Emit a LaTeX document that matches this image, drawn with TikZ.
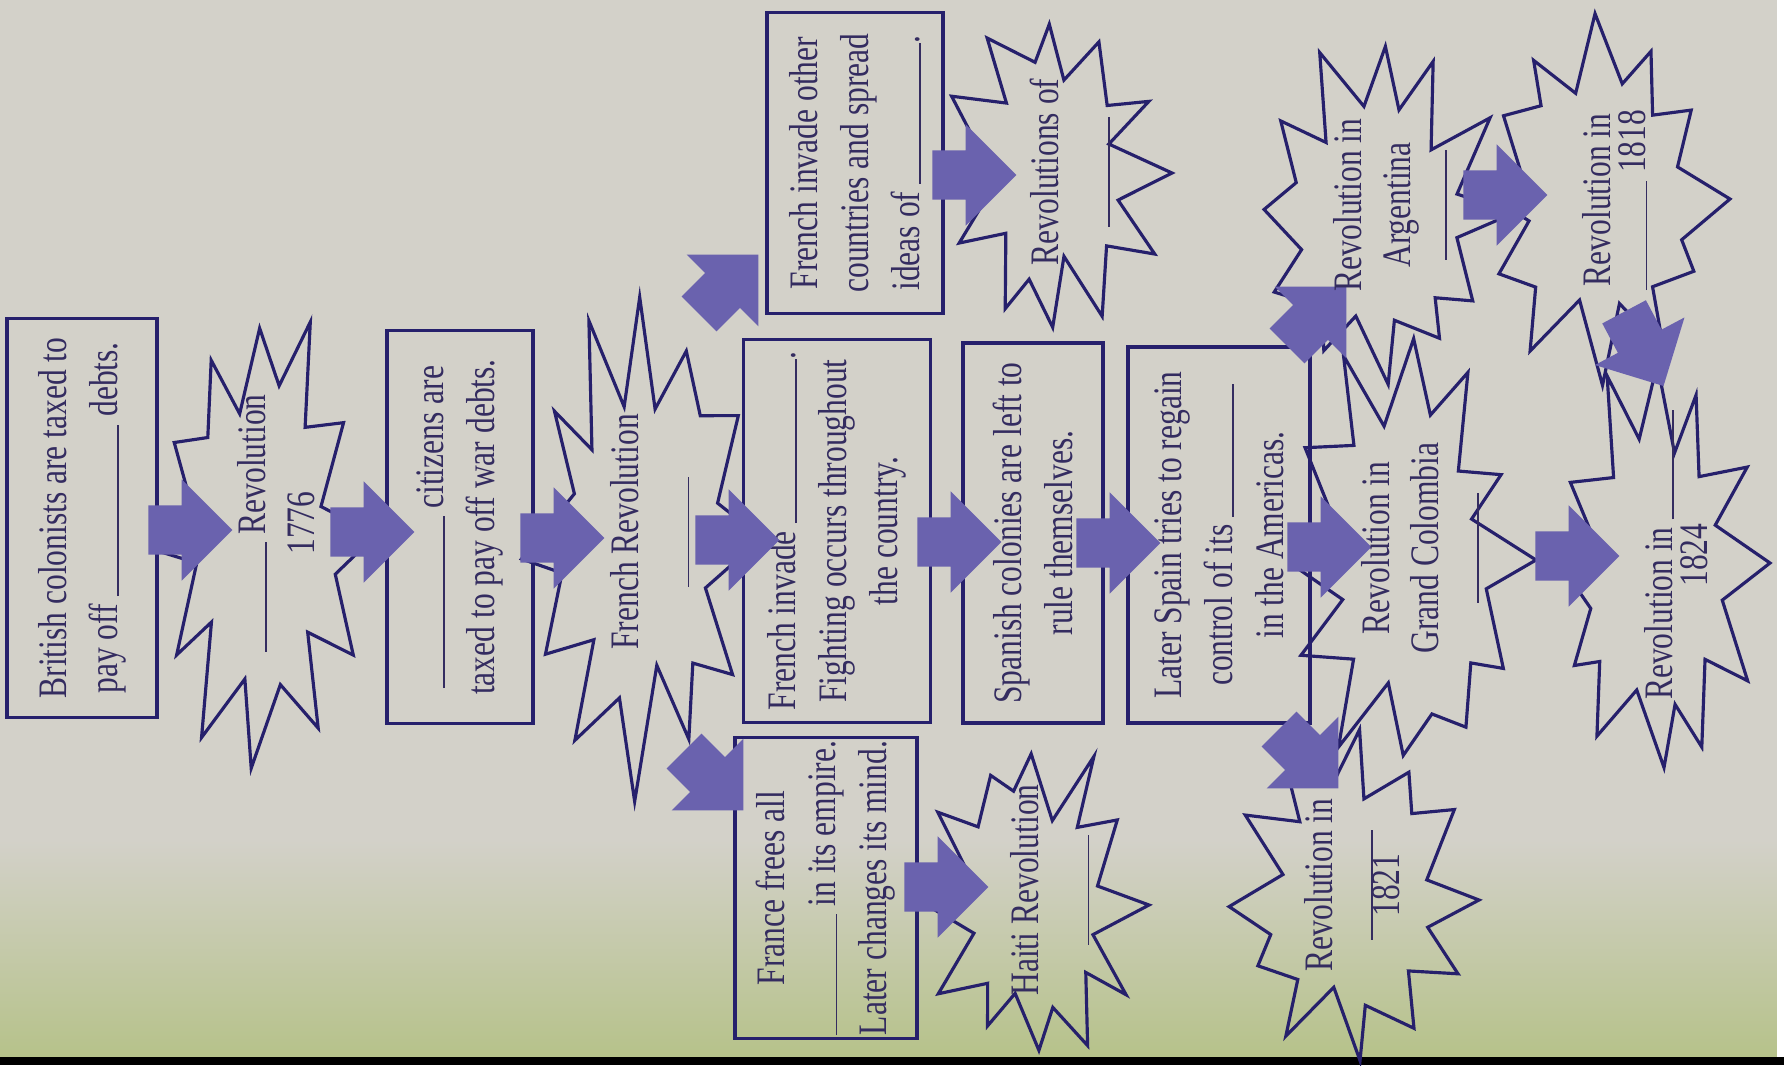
\documentclass[tikz,border=0pt]{standalone}
\usepackage{fontspec}
\setmainfont{Liberation Serif}
\usetikzlibrary{shapes.arrows,calc}

\definecolor{paper}{RGB}{211,209,201}
\definecolor{grass}{RGB}{182,194,138}
\definecolor{ink}{RGB}{38,32,108}
\definecolor{txtc}{RGB}{52,44,96}
\definecolor{arrowc}{RGB}{106,98,174}

\newcommand{\blank}[1]{\rule[-0.4pt]{#1}{0.5pt}}
% star outline: centre, x radius, y radius, seed
\newcommand{\burst}[4]{%
	\pgfmathsetseed{#4}
	\draw[burstline] ($(#1)+(0:#2 and #3)$)
		\foreach \idx [evaluate=\idx as \rad using {mod(\idx,2)==0 ? 0.8+0.2*rnd : 0.5+0.18*rnd},
			evaluate=\idx as \ang using {\idx*15+10*(rnd-0.5)}] in {1,...,23}
			{ -- ($(#1)+({\ang}:{\rad*#2} and {\rad*#3})$) } -- cycle;}

\begin{document}
\begin{tikzpicture}[x=1mm,y=-1mm]
	\tikzset{
		burstline/.style={draw=ink,line width=0.9pt,line join=miter},
		box/.style={draw=ink,line width=0.9pt,rotate=90,xscale=0.78,align=center,
			inner sep=1pt,text=txtc,font=\fontsize{11.5}{14.5}\selectfont},
		txt/.style={rotate=90,xscale=0.78,align=center,inner sep=0pt,text=txtc,
			font=\fontsize{11.5}{14}\selectfont},
		blk/.style={single arrow,fill=arrowc,draw=none,minimum height=8.4mm,
			single arrow head extend=2.6mm,inner xsep=0pt,inner ysep=2.4mm},
	}
	\useasboundingbox (0,0) rectangle (178.4,106.5);

	% page
	\fill[paper] (0,0) rectangle (178.4,106.5);
	\shade[top color=paper,bottom color=grass] (0,84) rectangle (178.4,105.7);
	\fill[black] (0,105.7) rectangle (178.4,106.5);
	\fill[white] (177.7,0) rectangle (178.4,105.7);

	% bursts
	\coordinate (c1) at (25.9,53.5);
	\coordinate (c2) at (64.0,53.8);
	\coordinate (c3) at (105.2,17.3);
	\coordinate (c4) at (103.4,90.5);
	\coordinate (c5) at (135.1,90.0);
	\coordinate (c6) at (140.8,56.0);
	\coordinate (c7) at (138.0,21.3);
	\coordinate (c8) at (159.9,19.9);
	\coordinate (c9) at (165.6,56.3);
	\burst{c1}{11.7}{25.0}{11}
	\burst{c2}{12.2}{26.4}{23}
	\burst{c3}{12.0}{16.8}{37}
	\burst{c4}{11.5}{17.5}{41}
	\burst{c5}{12.8}{18.0}{53}
	\burst{c6}{12.8}{24.0}{67}
	\burst{c7}{13.4}{18.5}{71}
	\burst{c8}{13.1}{18.8}{83}
	\burst{c9}{11.4}{22.5}{97}

	% boxes
	\node [box] (b1) at (8.2,51.8) [minimum width=51.2mm,minimum height=15mm]
		{British colonists are taxed to\\pay off \blank{2.2cm} debts.};
	\node [box] (b2) at (46.0,52.7) [minimum width=50.4mm,minimum height=14.6mm]
		{\blank{2.2cm} citizens are\\taxed to pay off war debts.};
	\node [box] (b3) at (83.7,53.1) [minimum width=49mm,minimum height=18.7mm]
		{French invade \blank{2.1cm}.\\Fighting occurs throughout\\the country.};
	\node [box] (b4) at (85.5,16.3) [minimum width=38.5mm,minimum height=17.6mm]
		{French invade other\\countries and spread\\ideas of \blank{1.8cm}.};
	\node [box] (b5) at (82.6,88.8) [minimum width=38.5mm,minimum height=18.2mm]
		{France frees all\\\blank{1.55cm} in its empire.\\Later changes its mind.};
	\node [box] (b6) at (103.3,53.3) [minimum width=48.7mm,minimum height=14mm]
		{Spanish colonies are left to\\rule themselves.};
	\node [box] (b7) at (121.9,53.5) [minimum width=48.2mm,minimum height=18.2mm]
		{Later Spain tries to regain\\control of its \blank{1.7cm}\\in the Americas.};

	% arrows
	\node [blk] (a1) at (17.8,53.0) {};
	\node [blk] (a2) at (36.0,53.2) {};
	\node [blk] (a3) at (55.0,53.8) {};
	\node [blk,rotate=45] (a4) at (72.0,29.3) {};
	\node [blk,rotate=-45] (a5) at (70.5,77.2) {};
	\node [blk] (a6) at (72.5,54.0) {};
	\node [blk] (a7) at (94.7,54.2) {};
	\node [blk] (a8) at (110.6,54.3) {};
	\node [blk] (a9) at (96.2,17.5) {};
	\node [blk] (a10) at (93.4,88.7) {};
	\node [blk] (a11) at (131.7,54.7) {};
	\node [blk,rotate=45] (a12) at (130.8,32.5) {};
	\node [blk,rotate=-45] (a13) at (130.0,75.0) {};
	\node [blk] (a14) at (149.3,19.5) {};
	\node [blk] (a15) at (156.5,55.6) {};
	\node [blk,rotate=-62] (a16) at (163.8,33.8) {};

	% burst texts
	\node [txt] (s1) at (27.6,52.3) {\blank{1.4cm} Revolution\\1776};
	\node [txt] (s2) at (65.0,53.2) {French Revolution\\\blank{1.4cm}};
	\node [txt] (s3) at (107.0,17.2) {Revolutions of\\\blank{1.4cm}};
	\node [txt] (s4) at (105.0,89.0) {Haiti Revolution\\\blank{1.4cm}};
	\node [txt] (s5) at (135.2,88.5) {Revolution in\\[-3pt]\blank{1.4cm}\\[-6pt]1821};
	\node [txt] (s6) at (142.0,54.8) {Revolution in\\Grand Colombia\\[-3pt]\blank{1.4cm}};
	\node [txt] (s7) at (139.0,20.5) {Revolution in\\Argentina\\[-4pt]\blank{1.4cm}};
	\node [txt] (s8) at (161.5,20.0) {Revolution in\\[-4pt]\blank{1.4cm} 1818};
	\node [txt] (s9) at (167.6,55.5) {Revolution in \blank{1.4cm}\\[-4pt]1824};
\end{tikzpicture}
\end{document}
